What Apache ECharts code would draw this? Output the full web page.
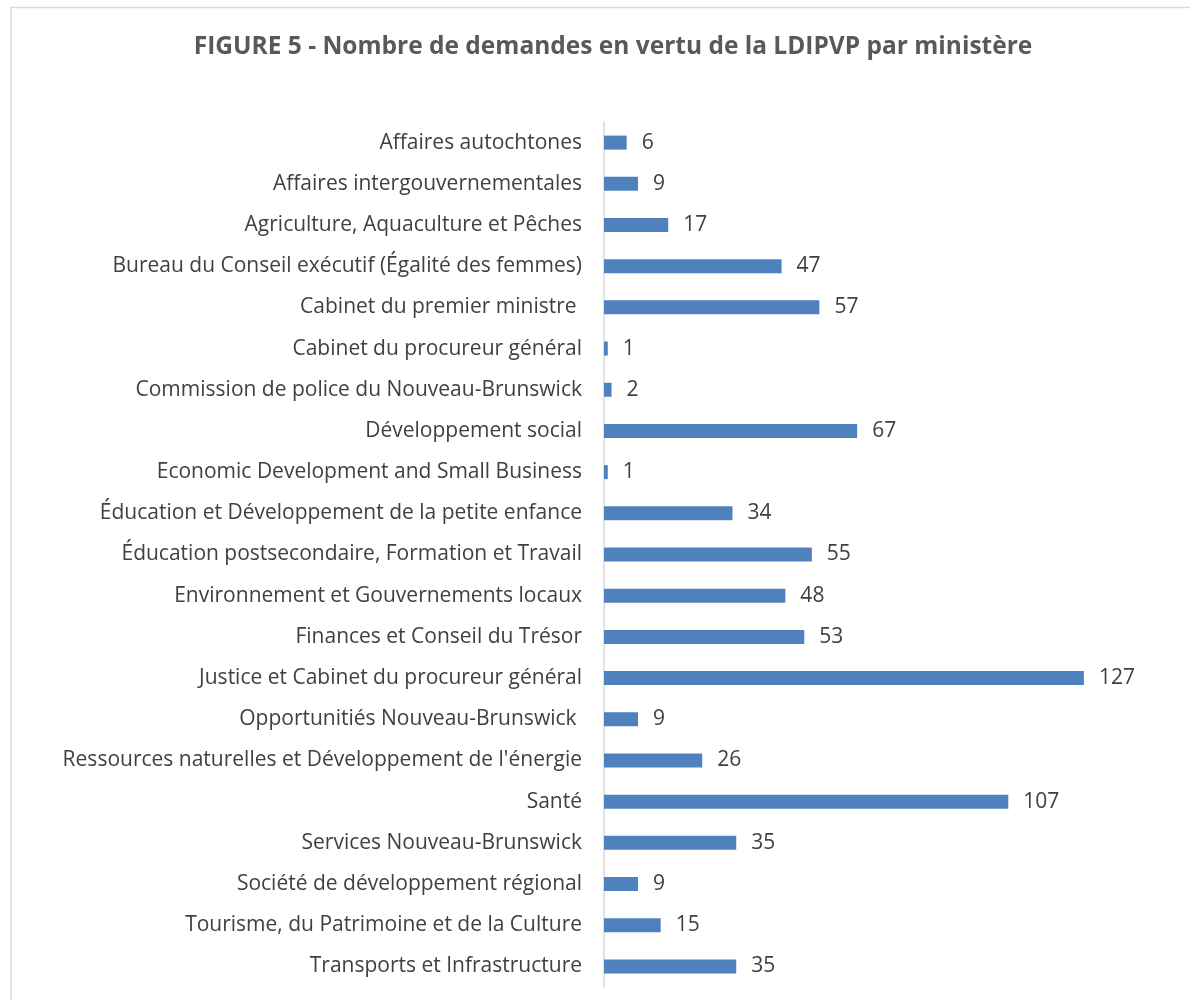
<!DOCTYPE html>
<html>
<head>
<meta charset="utf-8">
<script src="https://cdn.jsdelivr.net/npm/echarts@6/dist/echarts.min.js"></script>
<style>
  html, body { margin: 0; padding: 0; background: #fff; }
  #chart { width: 1190px; height: 1000px; }
</style>
</head>
<body>
<div id="chart"></div>
<script>
// ministères, dans l'ordre d'affichage (haut -> bas)
const categories = [
  'Affaires autochtones',
  'Affaires intergouvernementales',
  'Agriculture, Aquaculture et Pêches',
  'Bureau du Conseil exécutif (Égalité des femmes)',
  'Cabinet du premier ministre ',
  'Cabinet du procureur général',
  'Commission de police du Nouveau-Brunswick',
  'Développement social',
  'Economic Development and Small Business',
  'Éducation et Développement de la petite enfance',
  'Éducation postsecondaire, Formation et Travail',
  'Environnement et Gouvernements locaux',
  'Finances et Conseil du Trésor',
  'Justice et Cabinet du procureur général',
  'Opportunitiés Nouveau-Brunswick ',
  "Ressources naturelles et Développement de l'énergie",
  'Santé',
  'Services Nouveau-Brunswick',
  'Société de développement régional',
  'Tourisme, du Patrimoine et de la Culture',
  'Transports et Infrastructure'
];
const demandes = [6, 9, 17, 47, 57, 1, 2, 67, 1, 34, 55, 48, 53, 127, 9, 26, 107, 35, 9, 15, 35];

const chart = echarts.init(document.getElementById('chart'));

const font = '"Open Sans", "Liberation Sans", sans-serif';

chart.setOption({
  backgroundColor: '#ffffff',
  animation: false,
  graphic: [{
    type: 'rect',
    shape: { x: 11, y: 7.5, width: 1200, height: 1010 },
    style: { fill: 'none', stroke: '#d9d9d9', lineWidth: 1.5 },
    silent: true
  }],
  title: {
    text: 'FIGURE 5 - Nombre de demandes en vertu de la LDIPVP par ministère',
    left: 608,
    top: 30,
    textAlign: 'center',
    textStyle: {
      fontFamily: font,
      fontSize: 24.5,
      fontWeight: 'bold',
      color: '#595959'
    }
  },
  grid: {
    left: 604,
    right: 57,
    top: 122,
    bottom: 13,
    containLabel: false
  },
  xAxis: {
    type: 'value',
    min: 0,
    max: 140,
    show: false
  },
  yAxis: {
    type: 'category',
    inverse: true,
    data: categories,
    axisLine: { lineStyle: { color: '#d9d9d9', width: 1.5 } },
    axisTick: { show: false },
    axisLabel: {
      margin: 22,
      fontFamily: font,
      fontSize: 21,
      color: '#404040'
    }
  },
  series: [{
    type: 'bar',
    data: demandes,
    barWidth: 14,
    itemStyle: { color: '#4f81bd' },
    label: {
      show: true,
      position: 'right',
      distance: 15,
      fontFamily: font,
      fontSize: 21,
      color: '#404040'
    }
  }]
});
</script>
</body>
</html>
